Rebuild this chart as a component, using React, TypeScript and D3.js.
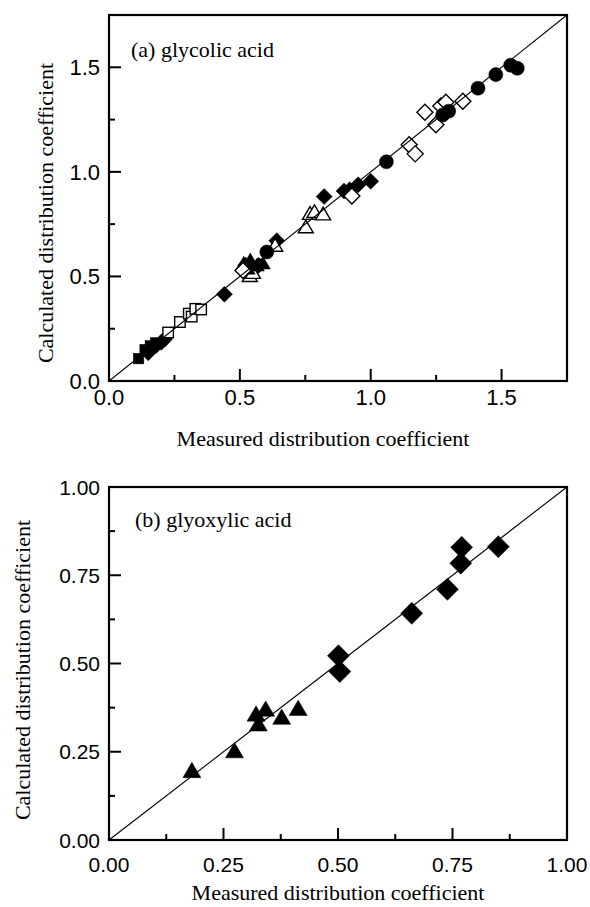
import React from 'react';
import * as d3 from 'd3';

// panel (a) glycolic acid: [measured, calculated]
const aFilledCircle = [[1.56, 1.495], [1.535, 1.51], [1.478, 1.465], [1.41, 1.4], [1.298, 1.29], [1.275, 1.272], [1.06, 1.048], [0.603, 0.617]];
const aOpenDiamond = [[1.207, 1.285], [1.249, 1.225], [1.268, 1.315], [1.287, 1.333], [1.352, 1.338], [1.147, 1.13], [1.17, 1.086], [0.928, 0.885], [0.512, 0.528]];
const aFilledDiamond = [[1.0, 0.955], [0.952, 0.938], [0.92, 0.915], [0.898, 0.908], [0.822, 0.882], [0.641, 0.671], [0.441, 0.415], [0.522, 0.554], [0.572, 0.553], [0.15, 0.135], [0.18, 0.17], [0.2, 0.185], [0.212, 0.2]];
const aFilledTriangle = [[0.515, 0.56], [0.54, 0.575], [0.565, 0.55], [0.588, 0.56], [0.53, 0.535]];
const aOpenTriangle = [[0.538, 0.5], [0.55, 0.515], [0.635, 0.645], [0.752, 0.733], [0.768, 0.797], [0.785, 0.806], [0.818, 0.795]];
const aOpenSquare = [[0.226, 0.232], [0.271, 0.282], [0.305, 0.322], [0.316, 0.308], [0.33, 0.345], [0.352, 0.342]];
const aFilledSquare = [[0.113, 0.107], [0.138, 0.15], [0.158, 0.168], [0.178, 0.182]];

// panel (b) glyoxylic acid
const bTriangle = [[0.181, 0.194], [0.274, 0.25], [0.321, 0.354], [0.342, 0.368], [0.326, 0.326], [0.377, 0.345], [0.413, 0.37]];
const bDiamond = [[0.77, 0.829], [0.85, 0.831], [0.768, 0.784], [0.739, 0.71], [0.661, 0.642], [0.501, 0.522], [0.504, 0.477]];

const aMajor = [0, 0.5, 1.0, 1.5];
const aMinor = [0.25, 0.75, 1.25];
const bMajor = [0, 0.25, 0.5, 0.75, 1.0];
const bMinor = [0.125, 0.375, 0.625, 0.875];

const serif = '"Liberation Serif", "Times New Roman", serif';
const sans = '"Liberation Sans", Arial, sans-serif';

type Pt = number[];

const Marker = ({ kind, x, y, s, open }: { kind: string; x: number; y: number; s: number; open?: boolean }) => {
  const fill = open ? '#fff' : '#000';
  const sw = open ? 1.4 : 0.5;
  if (kind === 'circle') return <circle cx={x} cy={y} r={s * 0.9} fill={fill} stroke="#000" strokeWidth={sw} />;
  if (kind === 'square') return <rect x={x - s * 0.7} y={y - s * 0.7} width={s * 1.4} height={s * 1.4} fill={fill} stroke="#000" strokeWidth={sw} />;
  if (kind === 'diamond') return <path d={`M${x},${y - s}L${x + s},${y}L${x},${y + s}L${x - s},${y}Z`} fill={fill} stroke="#000" strokeWidth={sw} />;
  const h = s * 1.7;
  return <path d={`M${x},${y - h * 0.6}L${x + s},${y + h * 0.4}L${x - s},${y + h * 0.4}Z`} fill={fill} stroke="#000" strokeWidth={sw} />;
};

const Panel = (props: any) => {
  const { left, right, top, bottom, max, major, minor, fmt, title, titleX, titleY, series, fs, labelFs, xTitleY, xTitleX, yTitleX, yTitleY, tickY } = props;
  const x = d3.scaleLinear().domain([0, max]).range([left, right]);
  const y = d3.scaleLinear().domain([0, max]).range([bottom, top]);
  const majLen = 12, minLen = 6;
  return (
    <g>
      {series.map((s: any, i: number) => (
        <g key={i}>
          {s.data.map((d: Pt, j: number) => (
            <Marker key={j} kind={s.kind} x={x(d[0])} y={y(d[1])} s={s.size} open={s.open} />
          ))}
        </g>
      ))}
      <line x1={x(0)} y1={y(0)} x2={x(max)} y2={y(max)} stroke="#000" strokeWidth={1.1} />
      {major.map((t: number) => (
        <g key={'M' + t}>
          <line x1={x(t)} x2={x(t)} y1={bottom} y2={bottom - majLen} stroke="#000" strokeWidth={2} />
          <line x1={left} x2={left + majLen} y1={y(t)} y2={y(t)} stroke="#000" strokeWidth={2} />
          <text x={x(t)} y={tickY} textAnchor="middle" fontFamily={sans} fontSize={labelFs}>{d3.format(fmt)(t)}</text>
          <text x={left - 9} y={y(t)} dy="0.36em" textAnchor="end" fontFamily={sans} fontSize={labelFs}>{d3.format(fmt)(t)}</text>
        </g>
      ))}
      {minor.map((t: number) => (
        <g key={'m' + t}>
          <line x1={x(t)} x2={x(t)} y1={bottom} y2={bottom - minLen} stroke="#000" strokeWidth={2} />
          <line x1={left} x2={left + minLen} y1={y(t)} y2={y(t)} stroke="#000" strokeWidth={2} />
        </g>
      ))}
      <rect x={left} y={top} width={right - left} height={bottom - top} fill="none" stroke="#000" strokeWidth={2.2} />
      <text x={titleX} y={titleY} fontFamily={serif} fontSize={fs}>{title}</text>
      <text x={xTitleX} y={xTitleY} textAnchor="middle" fontFamily={serif} fontSize={fs}>Measured distribution coefficient</text>
      <text transform={`translate(${yTitleX},${yTitleY}) rotate(-90)`} textAnchor="middle" fontFamily={serif} fontSize={fs}>Calculated distribution coefficient</text>
    </g>
  );
};

export default function App() {
  const seriesA = [
    { kind: 'square', data: aFilledSquare, size: 7.5 },
    { kind: 'diamond', data: aFilledDiamond, size: 8 },
    { kind: 'square', data: aOpenSquare, size: 7.5, open: true },
    { kind: 'triangle', data: aOpenTriangle, size: 7.5, open: true },
    { kind: 'triangle', data: aFilledTriangle, size: 7.5 },
    { kind: 'diamond', data: aOpenDiamond, size: 8, open: true },
    { kind: 'circle', data: aFilledCircle, size: 7.8 },
  ];
  const seriesB = [
    { kind: 'triangle', data: bTriangle, size: 9 },
    { kind: 'diamond', data: bDiamond, size: 11 },
  ];
  return (
    <svg width={590} height={907} style={{ position: 'absolute', left: 0, top: 0, background: '#fff' }}>
      <rect width={590} height={907} fill="#fff" />
      <Panel left={109} right={567} top={15} bottom={381} max={1.75} major={aMajor} minor={aMinor} fmt=".1f"
        title="(a) glycolic acid" titleX={131} titleY={57} series={seriesA} fs={22} labelFs={22}
        tickY={405} xTitleX={323} xTitleY={446} yTitleX={53} yTitleY={213} />
      <Panel left={109} right={567} top={487} bottom={840} max={1.0} major={bMajor} minor={bMinor} fmt=".2f"
        title="(b) glyoxylic acid" titleX={135} titleY={527} series={seriesB} fs={22} labelFs={21}
        tickY={872} xTitleX={338} xTitleY={900} yTitleX={30} yTitleY={670} />
    </svg>
  );
}
